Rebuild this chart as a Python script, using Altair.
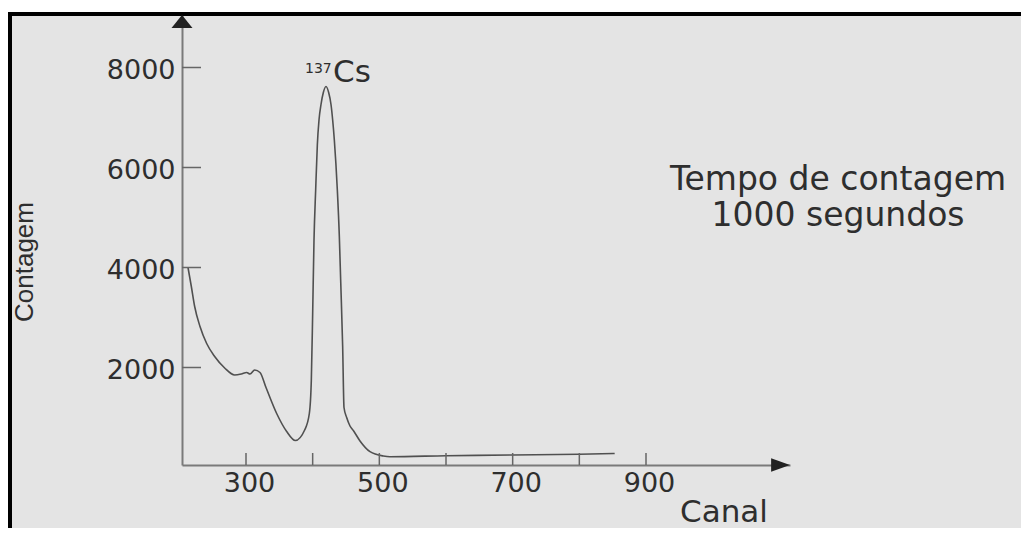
import altair as alt
import pandas as pd

# ---- data ----
canal = [213, 218, 223, 231, 241, 253, 268, 283, 293, 301, 306, 313, 321, 330,
         346, 361, 374, 388, 395, 398, 400, 402, 404.5, 407, 409.5, 412.5, 416, 420,
         424, 427.5, 430, 432.5, 437, 440, 442, 445, 447, 451, 456, 461, 471, 486,
         506, 516, 600, 700, 800, 853]
contagem = [4000, 3620, 3220, 2820, 2480, 2220, 1990, 1850, 1870, 1900, 1870, 1950, 1900, 1600,
            1080, 720, 540, 750, 1080, 1750, 3080, 4550, 5550, 6450, 6950, 7260, 7500, 7620,
            7500, 7260, 6950, 6550, 5550, 4620, 3750, 2420, 1200, 1000, 830, 740, 530, 316,
            230, 216, 235, 250, 265, 280]

x_ticks = [300, 400, 500, 600, 700, 800, 900]
x_labels = [300, 500, 700, 900]
y_ticks = [2000, 4000, 6000, 8000]

X_MIN, X_MAX = 204, 1116
Y_MIN, Y_MAX = 50, 9050

FONT = "DejaVu Sans"
TXT = "#2e2e2e"
AXC = "#7a7a7a"

x_scale = alt.Scale(domain=[X_MIN, X_MAX], nice=False, zero=False)
y_scale = alt.Scale(domain=[Y_MIN, Y_MAX], nice=False, zero=False)

df = pd.DataFrame({"canal": canal, "contagem": contagem})
one = pd.DataFrame({"k": [0]})

x_enc = alt.X("canal:Q", scale=x_scale, title=None,
              axis=alt.Axis(values=x_labels, format="d", ticks=False, tickSize=0, grid=False,
                            domain=True, domainColor=AXC, domainWidth=2,
                            labelFont=FONT, labelFontSize=27, labelColor=TXT,
                            labelPadding=5, labelOffset=3, labelFlush=False))
y_enc = alt.Y("contagem:Q", scale=y_scale, title=None,
              axis=alt.Axis(values=y_ticks, format="d", ticks=False, tickSize=0, grid=False,
                            domain=True, domainColor=AXC, domainWidth=2,
                            labelFont=FONT, labelFontSize=27, labelColor=TXT,
                            labelPadding=7, labelOffset=3, labelFlush=False))

# decorations: white strip, black frame (top and left)
white_strip = alt.Chart(one).mark_rect(color="white").encode(
    x=alt.value(-174), x2=alt.value(839), y=alt.value(-7), y2=alt.value(-3))
frame_top = alt.Chart(one).mark_rect(color="black").encode(
    x=alt.value(-174), x2=alt.value(839), y=alt.value(-3), y2=alt.value(1))
frame_left = alt.Chart(one).mark_rect(color="black").encode(
    x=alt.value(-174), x2=alt.value(-170), y=alt.value(-3), y2=alt.value(513))

curve = alt.Chart(df).mark_line(color="#505050", strokeWidth=1.6,
                                interpolate="monotone").encode(x=x_enc, y=y_enc)

xt = alt.Chart(pd.DataFrame({"canal": x_ticks})).mark_rule(
    color="#666666", strokeWidth=1.5).encode(
    x="canal:Q", y=alt.value(450), y2=alt.value(438))
yt = alt.Chart(pd.DataFrame({"contagem": y_ticks})).mark_rule(
    color="#666666", strokeWidth=1.5).encode(
    y="contagem:Q", x=alt.value(0), x2=alt.value(19))

y_arrow = alt.Chart(pd.DataFrame({"canal": [X_MIN], "contagem": [Y_MAX]})).mark_point(
    shape="M0,0L1,1.24L-1,1.24Z", filled=True, size=441, color="#222222",
    opacity=1).encode(x="canal:Q", y="contagem:Q")
x_arrow = alt.Chart(pd.DataFrame({"canal": [X_MAX], "contagem": [Y_MIN]})).mark_point(
    shape="M0,0L-1.8,-0.64L-1.8,0.64Z", filled=True, size=441, color="#222222",
    opacity=1).encode(x="canal:Q", y="contagem:Q")

cs_sup = alt.Chart(one).mark_text(text="137", font=FONT, fontSize=14, color=TXT,
                                  align="left", baseline="alphabetic").encode(
    x=alt.value(123), y=alt.value(58))
cs_main = alt.Chart(one).mark_text(text="Cs", font=FONT, fontSize=31, color=TXT,
                                   align="left", baseline="alphabetic").encode(
    x=alt.value(151), y=alt.value(67))
tempo = alt.Chart(one).mark_text(text=["Tempo de contagem", "1000 segundos"], font=FONT,
                                 fontSize=33, color=TXT, align="center",
                                 baseline="alphabetic", lineHeight=36).encode(
    x=alt.value(656), y=alt.value(175))
ytitle = alt.Chart(one).mark_text(text="Contagem", font="Liberation Sans",
                                  fontSize=26, color=TXT, align="center", baseline="top",
                                  angle=270).encode(
    x=alt.value(-170), y=alt.value(247))
xtitle = alt.Chart(one).mark_text(text="Canal", font=FONT, fontSize=31, color=TXT,
                                  align="center", baseline="alphabetic").encode(
    x=alt.value(542), y=alt.value(507))

chart = alt.layer(
    white_strip, frame_top, frame_left, curve, xt, yt, y_arrow, x_arrow,
    cs_sup, cs_main, tempo, ytitle, xtitle
).properties(
    width=608, height=450,
    autosize=alt.AutoSizeParams(type="none"),
    padding={"left": 174, "top": 7, "right": 231, "bottom": 63},
    background="#e4e4e4",
).configure_view(strokeWidth=0)

chart.save("out.html", embed_options={"renderer": "svg", "actions": False})
